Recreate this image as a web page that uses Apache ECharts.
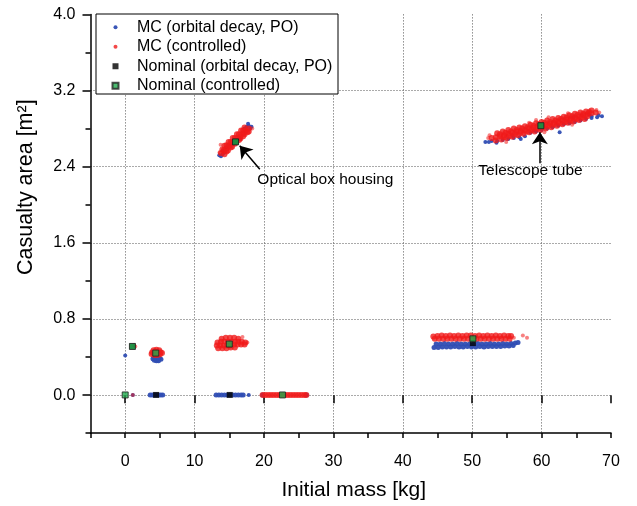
<!DOCTYPE html>
<html><head><meta charset="utf-8">
<script src="https://cdn.jsdelivr.net/npm/echarts@6/dist/echarts.min.js"></script>
<style>html,body{margin:0;padding:0;background:#fff}#c{width:637px;height:506px}</style>
</head><body><div id="c"></div>
<script>
const FONT = '"Liberation Sans", Arial, sans-serif';

// ---- data: [initial mass kg, casualty area m2] ----
const mcDecaySparse = [
  [51.9,2.66],[52.4,2.66],[52.8,2.67],[53.5,2.65],[53.6,2.67],[54.4,2.68],[55.2,2.69],[56.0,2.70],[56.8,2.71],[57.0,2.69],
  [57.6,2.72],[58.4,2.755],[59.2,2.77],[60.0,2.785],[60.8,2.80],[61.6,2.815],[62.4,2.83],[62.6,2.76],[63.2,2.845],[64.0,2.855],
  [64.8,2.87],[65.6,2.885],[66.4,2.90],[67.2,2.91],[68.0,2.92],[68.7,2.93],[68.2,2.94],[67.2,2.93],[65.8,2.94],[66.8,2.95],
  [64.6,2.92],[55.8,2.73],[58.9,2.78],
  [13.55,2.52],[13.8,2.51],[14.05,2.53],[14.1,2.57],[14.3,2.55],[14.5,2.60],[14.9,2.63],[16.6,2.69],[17.5,2.82],[17.8,2.83],
  [18.2,2.82],[18.0,2.80],[17.7,2.85],[17.2,2.80],
  [0.0,0.415],[1.1,0],[17.8,0]
];
const mcDecayDense = [
  [3.6,0],[3.9,0],[4.2,0],[4.5,0],[4.8,0],[5.1,0],[5.4,0],
  [13.1,0],[13.5,0],[13.9,0],[14.3,0],[14.7,0],[15.1,0],[15.5,0],[15.9,0],[16.3,0],[16.7,0],[17.0,0],
  [19.8,0],[26.1,0],
  [4.0,0.38],[4.3,0.385],[4.6,0.38],[4.9,0.38],[5.15,0.375],[4.2,0.365],[4.5,0.36],[4.8,0.36],[4.4,0.395],[4.8,0.395],
  [44.8,0.535],[45.4,0.535],[46.0,0.54],[46.6,0.535],[47.2,0.535],[47.8,0.54],[48.4,0.535],[49.0,0.535],[49.6,0.535],[50.2,0.535],
  [50.8,0.54],[51.4,0.535],[52.0,0.535],[52.6,0.54],[53.2,0.535],[53.8,0.535],[54.4,0.54],[55.0,0.535],[55.6,0.54],[56.2,0.545],[56.6,0.55],
  [44.5,0.50],[45.1,0.50],[45.7,0.505],[46.3,0.505],[46.9,0.505],[47.5,0.51],[48.1,0.505],[48.7,0.505],[49.3,0.51],[49.9,0.505],
  [50.5,0.505],[51.1,0.51],[51.7,0.505],[52.3,0.51],[52.9,0.51],[53.5,0.51],[54.1,0.51],[54.7,0.515],[55.3,0.515],[55.9,0.52]
];
const mcCtrlDense = [
  [52.8,2.70],[53.4,2.71],[54.0,2.72],[54.6,2.73],[55.2,2.745],[55.8,2.755],[56.4,2.765],[57.0,2.775],[57.6,2.785],[58.2,2.80],
  [58.8,2.81],[59.4,2.82],[60.0,2.83],[60.6,2.84],[61.2,2.85],[61.8,2.86],[62.4,2.875],[63.0,2.885],[63.6,2.895],[64.2,2.905],
  [64.8,2.915],[65.4,2.925],[66.0,2.94],[66.6,2.95],[67.2,2.96],[67.8,2.97],
  [53.6,2.75],[54.4,2.77],[55.2,2.785],[56.0,2.80],[56.8,2.81],[57.6,2.825],[58.4,2.84],[59.2,2.855],[60.0,2.87],[60.8,2.885],
  [61.6,2.90],[62.4,2.91],[63.2,2.925],[64.0,2.94],[64.8,2.955],[65.6,2.97],[66.4,2.98],[67.2,2.99],
  [53.4,2.675],[54.2,2.685],[55.0,2.70],[55.8,2.715],[56.6,2.73],[57.4,2.745],[58.2,2.76],[59.0,2.77],[59.8,2.785],[60.6,2.80],
  [61.4,2.815],[62.2,2.83],[63.0,2.845],[63.8,2.86],[64.6,2.875],[65.4,2.89],[66.2,2.90],
  [54.0,2.74],[54.8,2.755],[55.6,2.77],[56.4,2.785],[57.2,2.80],[58.0,2.815],[58.8,2.83],[59.6,2.845],[60.4,2.86],[61.2,2.87],
  [62.0,2.885],[62.8,2.90],[63.6,2.915],[64.4,2.93],[65.2,2.945],[66.0,2.955],[66.8,2.97],
  [54.6,2.71],[55.4,2.725],[56.2,2.74],[57.0,2.755],[57.8,2.77],[58.6,2.785],[59.4,2.80],[60.2,2.815],[61.0,2.83],[61.8,2.845],
  [62.6,2.855],[63.4,2.87],[64.2,2.885],[65.0,2.90],[65.8,2.915],[66.6,2.93],
  [13.8,2.54],[14.2,2.57],[14.6,2.59],[15.0,2.62],[15.4,2.65],[15.8,2.67],[16.2,2.70],[16.6,2.72],[17.0,2.75],[17.4,2.78],[17.8,2.80],
  [14.3,2.62],[14.9,2.66],[15.5,2.70],[16.1,2.74],[16.7,2.78],[17.2,2.81],
  [14.3,2.53],[14.8,2.57],[15.4,2.61],[16.0,2.655],[16.6,2.695],[17.2,2.74],[17.8,2.77],
  [14.0,2.58],[14.6,2.625],[15.2,2.66],[15.8,2.70],[16.4,2.74],[17.0,2.78],
  [14.6,2.56],[15.2,2.60],[15.8,2.64],[16.4,2.68],[17.0,2.72],[17.6,2.76],
  [19.8,0],[20.2,0],[20.6,0],[21.0,0],[21.4,0],[21.8,0],[22.2,0],[22.6,0],[23.0,0],[23.4,0],[23.8,0],[24.2,0],[24.6,0],[25.0,0],[25.4,0],[25.8,0],[26.1,0],
  [3.9,0.45],[4.2,0.44],[4.5,0.45],[4.8,0.44],[5.1,0.45],[4.1,0.47],[4.5,0.475],[4.9,0.47],[4.2,0.42],[4.6,0.42],[5.0,0.425],[5.3,0.44],[3.8,0.43],
  [13.9,0.59],[14.5,0.60],[15.1,0.60],[15.7,0.60],[16.3,0.59],
  [13.3,0.55],[13.8,0.56],[14.3,0.56],[14.8,0.56],[15.3,0.56],[15.8,0.56],[16.3,0.56],[16.8,0.56],[17.3,0.55],
  [13.2,0.52],[13.7,0.52],[14.2,0.52],[14.7,0.52],[15.2,0.52],[15.7,0.53],[16.2,0.53],[16.7,0.53],[17.2,0.53],
  [13.4,0.49],[14.0,0.49],[14.6,0.49],[15.2,0.50],[15.8,0.50],
  [44.4,0.615],[45.0,0.62],[45.6,0.625],[46.2,0.62],[46.8,0.625],[47.4,0.62],[48.0,0.625],[48.6,0.62],[49.2,0.625],[49.8,0.625],
  [50.4,0.62],[51.0,0.625],[51.6,0.62],[52.2,0.625],[52.8,0.62],[53.4,0.625],[54.0,0.62],[54.6,0.625],[55.2,0.62],[55.6,0.62],
  [44.6,0.59],[45.2,0.59],[45.8,0.59],[46.4,0.59],[47.0,0.59],[47.6,0.59],[48.2,0.59],[48.8,0.59],[49.4,0.59],[50.0,0.59],
  [50.6,0.59],[51.2,0.59],[51.8,0.59],[52.4,0.59],[53.0,0.59],[53.6,0.59],[54.2,0.59],[54.8,0.59],[55.4,0.59]
];
const mcCtrlSparse = [
  [52.3,2.70],[52.5,2.73],[67.9,2.995],[68.3,2.97],[66.9,2.99],[63.8,2.96],[61.0,2.92],[58.2,2.86],[60.4,2.76],[64.4,2.84],
  [54.9,2.66],[59.2,2.89],
  [13.75,2.63],[18.3,2.80],[13.6,2.55],
  [1.3,0.52],[1.45,0.51],[1.1,0],
  [16.9,0.61],[17.6,0.55],
  [57.3,0.625],[57.9,0.60],[56.0,0.60]
];
const nomDecay = [[1.04,0.51],[4.45,0],[15.06,0],[15.9,2.66],[50.1,0.545],[59.9,2.83]];
const nomCtrl = [[0,0],[1.04,0.51],[4.4,0.44],[15.0,0.535],[15.9,2.66],[22.66,0],[50.1,0.59],[59.9,2.83]];

const seriesNames = ['MC (orbital decay, PO)', 'MC (controlled)', 'Nominal (orbital decay, PO)', 'Nominal (controlled)'];
const arrowLines = [[[19.4,2.373],[16.5,2.62]], [[59.75,2.435],[59.75,2.76]]];
const noteTexts = ['Optical box housing', 'Telescope tube'];
const notePos = [[28.85,2.267],[58.4,2.355]];
const xRange = [-5, 70], xMajor = 10, xMinor = 5;
const yRange = [-0.4, 4.0], yMajor = 0.8, yMinor = 0.4;

// ---- layout ----
const W = 637, H = 506;
const gL = 90.5, gR = 26, gT = 14.4, gB = 72.8;
const pxX = (W - gL - gR) / (xRange[1] - xRange[0]);
const pxY = (H - gT - gB) / (yRange[1] - yRange[0]);
const g1L = gL + (0 - xRange[0]) * pxX;      // major x grid starts at 0
const g2B = gB + (0 - yRange[0]) * pxY;      // major y grid starts at 0

const BLUE = '#2f4db3', RED = '#f01a1a', GREEN = '#1faa4c';
const dotted = {color: '#555', width: 1, type: [1, 2]};
const tickStyle = {color: '#000', width: 1.5};

const chart = echarts.init(document.getElementById('c'), null, {renderer: 'canvas'});
chart.setOption({
  animation: false,
  backgroundColor: '#fff',
  textStyle: {fontFamily: FONT},
  grid: [
    {left: gL, right: gR, top: gT, bottom: gB},
    {left: g1L, right: gR, top: gT, bottom: gB},
    {left: gL, right: gR, top: gT, bottom: g2B}
  ],
  xAxis: [
    {gridIndex: 0, type: 'value', min: xRange[0], max: xRange[1], interval: xMinor,
     axisLine: {show: true, onZero: false, lineStyle: {color: '#000', width: 1.5}},
     axisTick: {show: true, length: 5, lineStyle: tickStyle},
     axisLabel: {show: false}, splitLine: {show: false},
     name: 'Initial mass [kg]', nameLocation: 'middle', nameGap: 47,
     nameTextStyle: {fontSize: 21, color: '#000', fontFamily: FONT, padding: [0, 0, 0, 6]}},
    {gridIndex: 1, type: 'value', min: 0, max: xRange[1], interval: xMajor,
     axisLine: {show: false}, axisTick: {show: true, length: 8, lineStyle: tickStyle},
     axisLabel: {fontSize: 16, color: '#000', margin: 20, fontFamily: FONT},
     splitLine: {show: true, showMaxLine: false, lineStyle: dotted}},
    {gridIndex: 2, type: 'value', min: 0, max: xRange[1], show: false}
  ],
  yAxis: [
    {gridIndex: 0, type: 'value', min: yRange[0], max: yRange[1], interval: yMinor,
     axisLine: {show: true, onZero: false, lineStyle: {color: '#000', width: 1.5}},
     axisTick: {show: true, length: 5, lineStyle: tickStyle},
     axisLabel: {show: false}, splitLine: {show: false}},
    {gridIndex: 1, type: 'value', min: yRange[0], max: yRange[1], show: false},
    {gridIndex: 2, type: 'value', min: 0, max: yRange[1], interval: yMajor,
     axisLine: {show: false}, axisTick: {show: true, length: 8, lineStyle: tickStyle},
     axisLabel: {fontSize: 16, color: '#000', margin: 15, fontFamily: FONT, formatter: v => v.toFixed(1)},
     splitLine: {show: true, showMaxLine: false, lineStyle: dotted}}
  ],
  legend: [
    {data: [{name: seriesNames[0], icon: 'circle'}, {name: seriesNames[1], icon: 'circle'}],
     orient: 'vertical', left: 113.5, top: 17.5, padding: 0, itemGap: 0,
     itemWidth: 33, itemHeight: 4, selectedMode: false, z: 20,
     textStyle: {fontSize: 16, lineHeight: 19.5, color: '#000', fontFamily: FONT}},
    {data: [{name: seriesNames[2], icon: 'path://M0,0h10v10h-10z'}, {name: seriesNames[3], icon: 'path://M0,0h10v10h-10z'}],
     orient: 'vertical', left: 111.5, top: 56.5, padding: 0, itemGap: 0,
     itemWidth: 33, itemHeight: 6, selectedMode: false, z: 20,
     textStyle: {fontSize: 16, lineHeight: 19.5, color: '#000', fontFamily: FONT}}
  ],
  graphic: [
    {type: 'rect', z: 10, shape: {x: 96, y: 14, width: 242, height: 80},
     style: {fill: '#fff', stroke: '#000', lineWidth: 1}},
    {type: 'text', z: 10, x: 26, y: 275, rotation: Math.PI / 2,
     style: {text: 'Casualty area [m²]', fontSize: 21.5, fontFamily: FONT, fill: '#000', align: 'left', verticalAlign: 'middle'}}
  ],
  series: [
    {type: 'scatter', name: seriesNames[0], data: mcDecaySparse, symbol: 'circle', symbolSize: 4,
     itemStyle: {color: BLUE, opacity: 0.95}, silent: true},
    {type: 'scatter', name: seriesNames[0], data: mcDecayDense, symbol: 'circle', symbolSize: 5,
     itemStyle: {color: BLUE, opacity: 0.95}, silent: true},
    {type: 'scatter', name: seriesNames[1], data: mcCtrlDense, symbol: 'circle', symbolSize: 6,
     itemStyle: {color: RED, opacity: 0.8}, silent: true},
    {type: 'scatter', name: seriesNames[1], data: mcCtrlSparse, symbol: 'circle', symbolSize: 4,
     itemStyle: {color: RED, opacity: 0.55}, silent: true},
    {type: 'scatter', name: seriesNames[2], data: nomDecay, symbol: 'rect', symbolSize: 6,
     itemStyle: {color: '#000'}, silent: true},
    {type: 'scatter', name: seriesNames[3], data: nomCtrl, symbol: 'rect', symbolSize: 6,
     itemStyle: {color: GREEN, borderColor: '#222', borderWidth: 1}, silent: true, z: 3,
     markLine: {silent: true, symbol: ['none', 'arrow'], symbolSize: 12,
       lineStyle: {color: '#000', width: 1.5, type: 'solid'}, label: {show: false},
       data: arrowLines.map(l => [{coord: l[0]}, {coord: l[1]}])},
     markPoint: {silent: true, symbol: 'circle', symbolSize: 1, itemStyle: {color: 'rgba(0,0,0,0)'},
       label: {show: true, position: 'inside', formatter: p => p.name, fontSize: 15.5, color: '#000', fontFamily: FONT},
       data: noteTexts.map((t, i) => ({name: t, coord: notePos[i]}))}}
  ]
});
</script></body></html>
